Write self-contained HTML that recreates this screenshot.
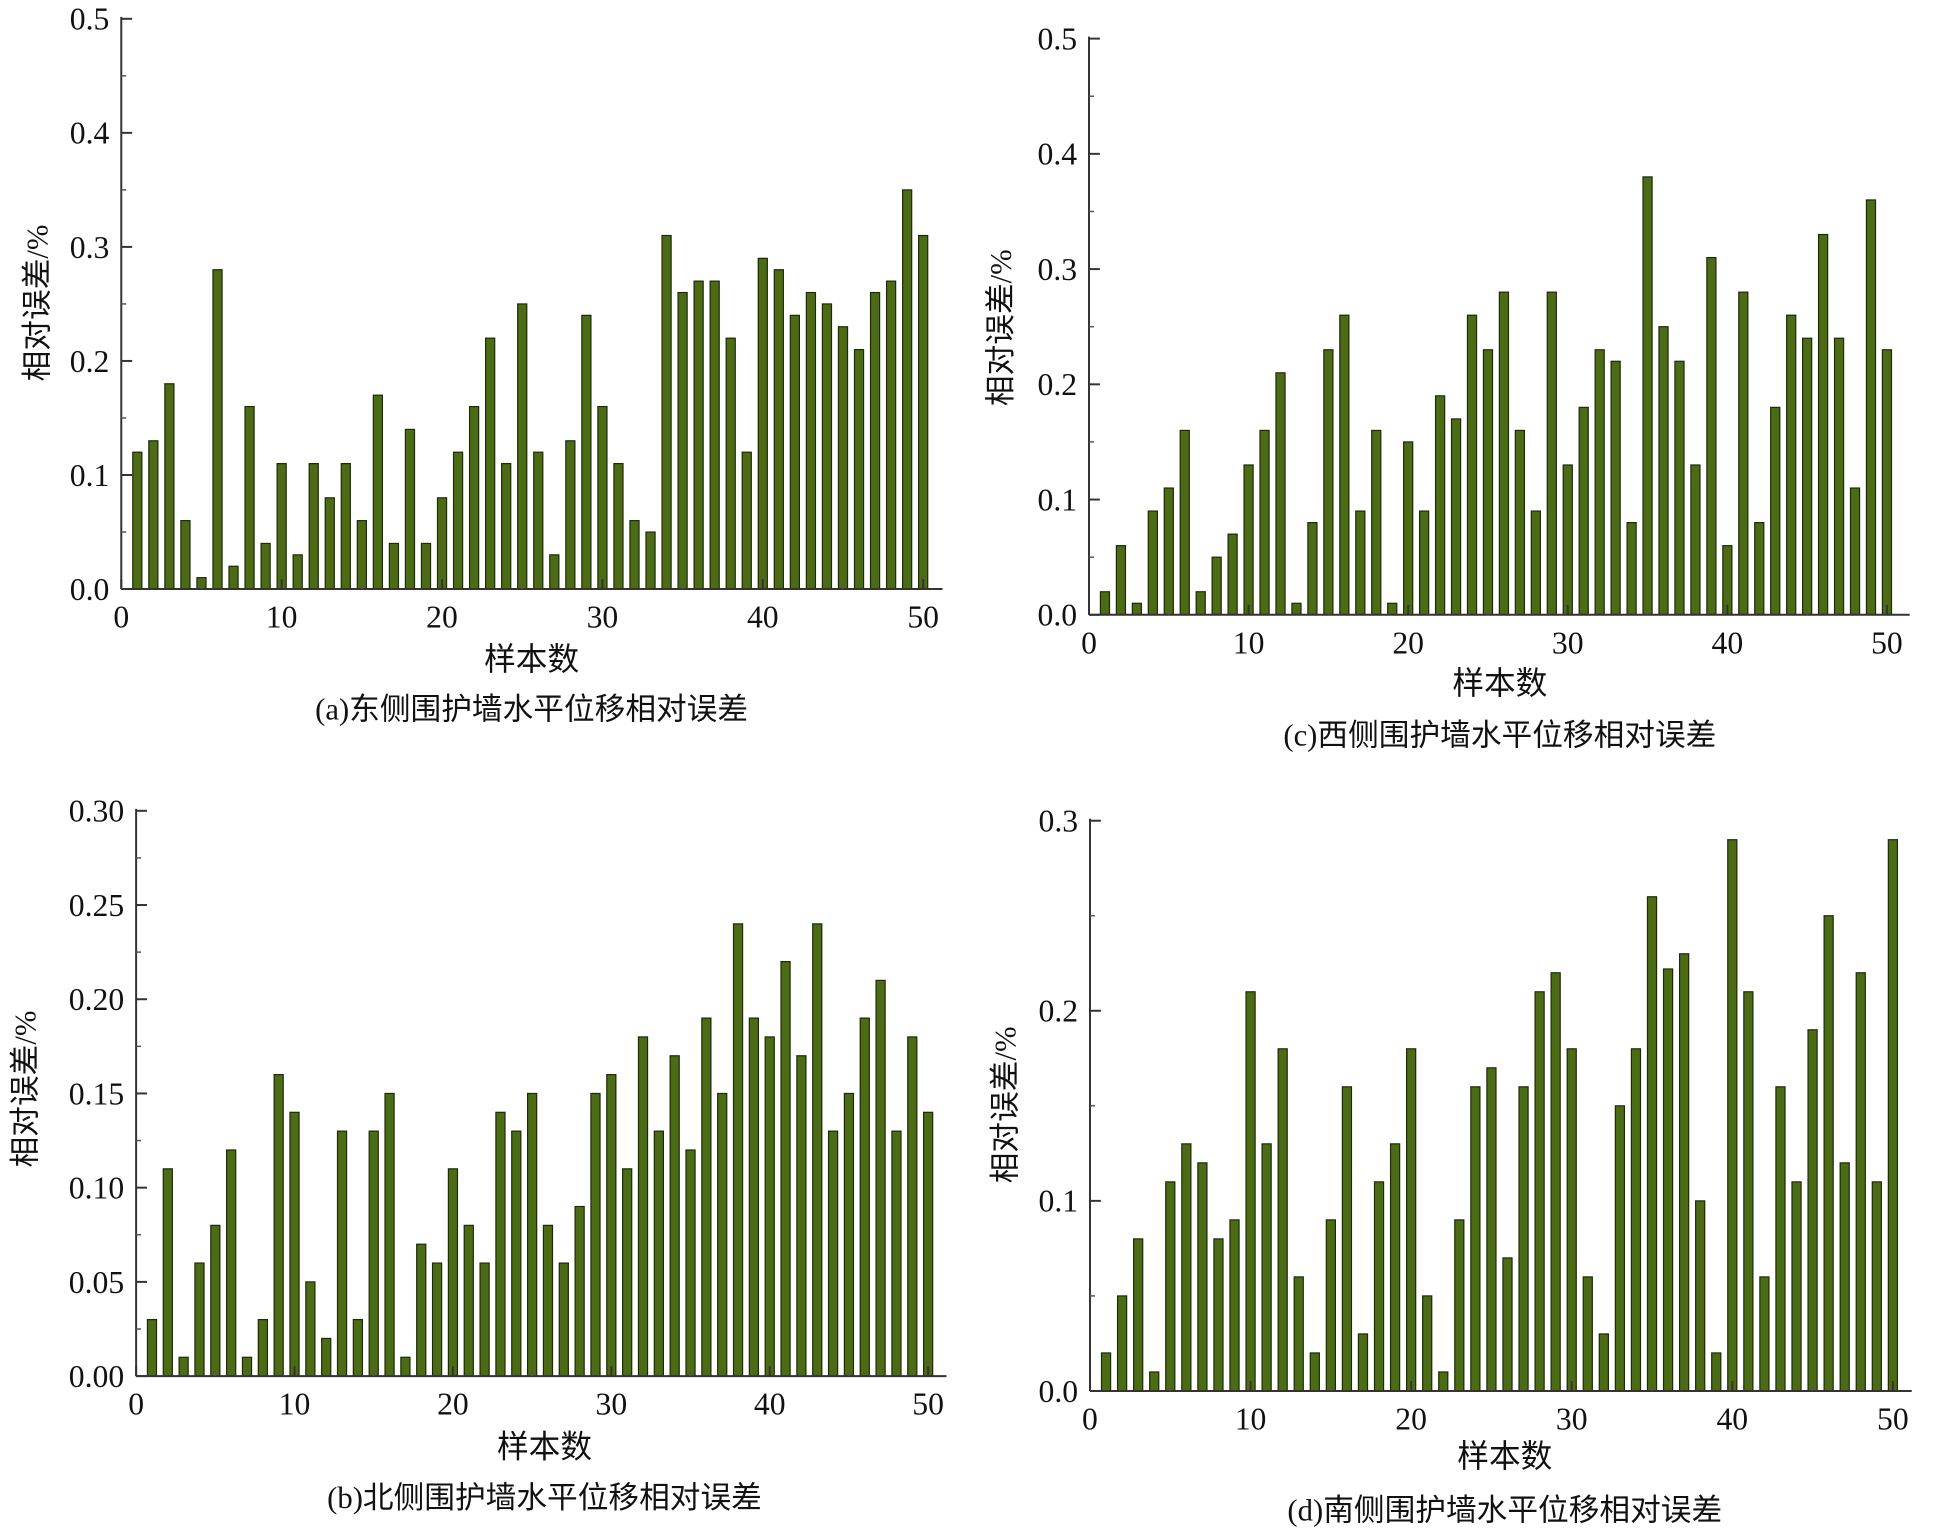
<!DOCTYPE html>
<html><head><meta charset="utf-8">
<style>
html,body{margin:0;padding:0;background:#fff;}
svg{display:block;}
text{font-family:"Liberation Serif","Noto Serif CJK SC","Noto Sans CJK SC",serif;fill:#111;}
.cjk{font-family:"Liberation Serif","Noto Sans CJK SC",sans-serif;}
</style></head>
<body>
<svg id="chart" width="1942" height="1539" viewBox="0 0 1942 1539" xmlns="http://www.w3.org/2000/svg"><g id="root" transform="scale(0.99)"></g></svg>
<script>
const categories = Array.from({length:50},(_,i)=>i+1);
const valuesA = [0.12,0.13,0.18,0.06,0.01,0.28,0.02,0.16,0.04,0.11,0.03,0.11,0.08,0.11,0.06,0.17,0.04,0.14,0.04,0.08,0.12,0.16,0.22,0.11,0.25,0.12,0.03,0.13,0.24,0.16,0.11,0.06,0.05,0.31,0.26,0.27,0.27,0.22,0.12,0.29,0.28,0.24,0.26,0.25,0.23,0.21,0.26,0.27,0.35,0.31];
const valuesC = [0.02,0.06,0.01,0.09,0.11,0.16,0.02,0.05,0.07,0.13,0.16,0.21,0.01,0.08,0.23,0.26,0.09,0.16,0.01,0.15,0.09,0.19,0.17,0.26,0.23,0.28,0.16,0.09,0.28,0.13,0.18,0.23,0.22,0.08,0.38,0.25,0.22,0.13,0.31,0.06,0.28,0.08,0.18,0.26,0.24,0.33,0.24,0.11,0.36,0.23];
const valuesB = [0.03,0.11,0.01,0.06,0.08,0.12,0.01,0.03,0.16,0.14,0.05,0.02,0.13,0.03,0.13,0.15,0.01,0.07,0.06,0.11,0.08,0.06,0.14,0.13,0.15,0.08,0.06,0.09,0.15,0.16,0.11,0.18,0.13,0.17,0.12,0.19,0.15,0.24,0.19,0.18,0.22,0.17,0.24,0.13,0.15,0.19,0.21,0.13,0.18,0.14];
const valuesD = [0.02,0.05,0.08,0.01,0.11,0.13,0.12,0.08,0.09,0.21,0.13,0.18,0.06,0.02,0.09,0.16,0.03,0.11,0.13,0.18,0.05,0.01,0.09,0.16,0.17,0.07,0.16,0.21,0.22,0.18,0.06,0.03,0.15,0.18,0.26,0.222,0.23,0.10,0.02,0.29,0.21,0.06,0.16,0.11,0.19,0.25,0.12,0.22,0.11,0.29];
const xTicks = [0,10,20,30,40,50];
const yTicksA = ["0.0","0.1","0.2","0.3","0.4","0.5"];
const yTicksB = ["0.00","0.05","0.10","0.15","0.20","0.25","0.30"];
const yTicksD = ["0.0","0.1","0.2","0.3"];
const titles = ["(a)东侧围护墙水平位移相对误差","(b)北侧围护墙水平位移相对误差","(c)西侧围护墙水平位移相对误差","(d)南侧围护墙水平位移相对误差"];

const root = document.getElementById('root');
const NS = 'http://www.w3.org/2000/svg';
function mk(tag, attrs, parent){const e=document.createElementNS(NS,tag);for(const k in attrs)e.setAttribute(k,attrs[k]);(parent||root).appendChild(e);return e;}

function panel(cfg){
  const g = mk('g',{});
  
  
  const ymax = parseFloat(cfg.yTicks[cfg.yTicks.length-1]);
  const xs = v => cfg.x0 + (cfg.x50 - cfg.x0) * v / 50;
  const ys = v => cfg.y0 - (cfg.y0 - cfg.yTop) * v / ymax;
  cfg.values.forEach((v,i)=>{
    const cx = xs(categories[i]);
    const r = mk('rect',{x:cx-4.6,y:ys(v),width:9.2,height:cfg.y0-ys(v),fill:'#4b6b14',stroke:'#1e2a08','stroke-width':1.2},g);
    
    
  });
  const ax = mk('line',{x1:cfg.x0,y1:cfg.yTop-2,x2:cfg.x0,y2:cfg.y0,stroke:'#333','stroke-width':2},g);
  
  
  const bx = mk('line',{x1:cfg.x0,y1:cfg.y0,x2:cfg.xEnd,y2:cfg.y0,stroke:'#333','stroke-width':2},g);
  
  
  const n = cfg.yTicks.length-1;
  for(let k=0;k<=n;k++){
    const y = cfg.yTop + (cfg.y0-cfg.yTop)*(n-k)/n;
    mk('line',{x1:cfg.x0,y1:y,x2:cfg.x0+11,y2:y,stroke:'#333','stroke-width':2},g);
    if(k<n){const ym=y-(cfg.y0-cfg.yTop)/n/2; mk('line',{x1:cfg.x0,y1:ym,x2:cfg.x0+5,y2:ym,stroke:'#555','stroke-width':1.5},g);}
    const t = mk('text',{x:cfg.x0-12,y:y+11,'text-anchor':'end','font-size':32},g);
    t.textContent = cfg.yTicks[k];
    
    
  }
  xTicks.forEach(v=>{
    const x = xs(v);
    mk('line',{x1:x,y1:cfg.y0,x2:x,y2:cfg.y0-10,stroke:'#333','stroke-width':2},g);
    if(v<50) mk('line',{x1:xs(v+5),y1:cfg.y0,x2:xs(v+5),y2:cfg.y0-5,stroke:'#555','stroke-width':1.5},g);
    const t = mk('text',{x:x,y:cfg.y0+39,'text-anchor':'middle','font-size':32},g);
    t.textContent = v;
    
    
  });
  const xl = mk('text',{x:cfg.xl[0],y:cfg.xl[1]+11,'text-anchor':'middle','font-size':32,class:'cjk'},g);
  xl.textContent='样本数';
  
  
  const yl = mk('text',{x:0,y:0,'text-anchor':'middle','font-size':31,class:'cjk',transform:`translate(${cfg.yl[0]+11},${cfg.yl[1]}) rotate(-90)`},g);
  yl.textContent='相对误差/%';
  
  
  const tt = mk('text',{x:cfg.tt[0],y:cfg.tt[1]+11,'text-anchor':'middle','font-size':31,class:'cjk'},g);
  tt.textContent=cfg.title;
  
  
}

panel({name:'panel-a',values:valuesA,yTicks:yTicksA,x0:122.5,x50:932.5,xEnd:952,y0:595,yTop:19,xl:[537,666],yl:[37,306],tt:[537,716],title:titles[0]});
panel({name:'panel-c',values:valuesC,yTicks:yTicksA,x0:1100,x50:1906,xEnd:1929,y0:621,yTop:39,xl:[1515,690],yl:[1010,331],tt:[1515,742],title:titles[2]});
panel({name:'panel-b',values:valuesB,yTicks:yTicksB,x0:137.5,x50:937.5,xEnd:956,y0:1390,yTop:819,xl:[550,1461],yl:[25,1100],tt:[550,1512],title:titles[1]});
panel({name:'panel-d',values:valuesD,yTicks:yTicksD,x0:1101,x50:1912,xEnd:1931,y0:1405,yTop:829,xl:[1520,1471],yl:[1015,1116],tt:[1520,1525],title:titles[3]});
</script>
</body></html>
